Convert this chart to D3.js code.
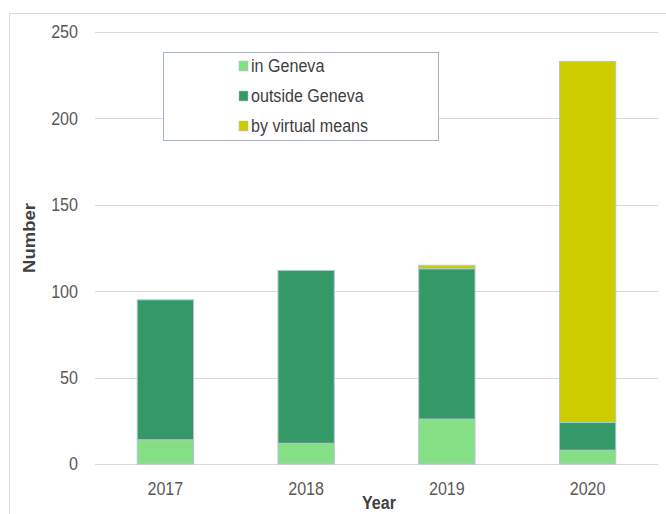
<!DOCTYPE html>
<html>
<head>
<meta charset="utf-8">
<script src="https://cdn.jsdelivr.net/npm/d3@7"></script>
<style>
  body { margin: 0; background: #fff; }
  svg text { font-family: "Liberation Sans", Arial, sans-serif; }
</style>
</head>
<body>
<div id="chart"></div>
<script>
const years = ["2017", "2018", "2019", "2020"];
const inGeneva = [14, 12, 26, 8];
const outsideGeneva = [81, 100, 87, 16];
const virtualMeans = [0, 0, 2, 209];
const seriesNames = ["in Geneva", "outside Geneva", "by virtual means"];
const yTicks = [0, 50, 100, 150, 200, 250];

const colors = ["#85df85", "#339966", "#cccc00"];

// the original picture is squeezed horizontally, so text gets a scaleX
const FS = 18.5, SX = 0.87;

const W = 666, H = 514;
const margin = {top: 32, left: 95};
const width = 658 - margin.left, height = 464 - margin.top;

const svg = d3.select("#chart").append("svg")
  .attr("width", W).attr("height", H);

// outer chart border (left & top only visible)
svg.append("path")
  .attr("d", "M9.5," + H + "V13.5H" + W)
  .attr("fill", "none")
  .attr("stroke", "#d9d9d9");

const g = svg.append("g")
  .attr("transform", "translate(" + margin.left + "," + margin.top + ")");

const x = d3.scaleBand().domain(years).range([0, width]).paddingInner(0.6).paddingOuter(0.3);
const y = d3.scaleLinear().domain([0, 250]).range([height, 0]);

// gridlines
g.append("g")
  .selectAll("line")
  .data(yTicks)
  .join("line")
  .attr("x1", 0).attr("x2", width)
  .attr("y1", d => Math.round(y(d)) + 0.5)
  .attr("y2", d => Math.round(y(d)) + 0.5)
  .attr("stroke", "#d9d9d9")
  .attr("stroke-width", 1);

const rows = years.map((yr, i) => ({year: yr, a: inGeneva[i], b: outsideGeneva[i], c: virtualMeans[i]}));
const stack = d3.stack().keys(["a", "b", "c"])(rows);

g.append("g")
  .selectAll("g")
  .data(stack)
  .join("g")
  .attr("fill", (d, i) => colors[i])
  .selectAll("rect")
  .data(d => d.filter(p => p[1] > p[0]))
  .join("rect")
  .attr("x", d => x(d.data.year))
  .attr("width", x.bandwidth())
  .attr("y", d => y(d[1]))
  .attr("height", d => y(d[0]) - y(d[1]))
  .attr("stroke", "#b4c4d2")
  .attr("stroke-width", 1);

// y axis labels
const yAxis = g.append("g").call(d3.axisLeft(y).tickValues(yTicks).tickSize(0).tickPadding(17));
yAxis.select(".domain").remove();
yAxis.selectAll("text")
  .attr("font-size", FS).attr("fill", "#595959")
  .attr("font-family", "Liberation Sans, Arial, sans-serif")
  .attr("x", -17 / SX)
  .attr("transform", "scale(" + SX + ",1)");

// x axis labels
const xAxis = g.append("g").attr("transform", "translate(0," + height + ")")
  .call(d3.axisBottom(x).tickSize(0).tickPadding(18));
xAxis.select(".domain").remove();
xAxis.selectAll("text")
  .attr("font-size", FS).attr("fill", "#595959")
  .attr("font-family", "Liberation Sans, Arial, sans-serif")
  .attr("transform", "scale(" + SX + ",1)");

// axis titles
svg.append("text")
  .attr("transform", "translate(34.5,238) rotate(-90) scale(1," + SX + ")")
  .attr("text-anchor", "middle")
  .attr("font-size", FS).attr("font-weight", "bold").attr("fill", "#404040")
  .text("Number");

svg.append("text")
  .attr("transform", "translate(379,509) scale(" + SX + ",1)")
  .attr("text-anchor", "middle")
  .attr("font-size", FS).attr("font-weight", "bold").attr("fill", "#404040")
  .text("Year");

// legend
const legend = svg.append("g").attr("transform", "translate(163,52)");
legend.append("rect")
  .attr("x", 0.5).attr("y", 0.5).attr("width", 275).attr("height", 88)
  .attr("fill", "#fff").attr("stroke", "#a6b4c2");

const items = legend.selectAll("g.item")
  .data(seriesNames)
  .join("g")
  .attr("class", "item")
  .attr("transform", (d, i) => "translate(76," + (14 + i * 30) + ")");

items.append("rect")
  .attr("x", 0).attr("y", -5).attr("width", 9).attr("height", 10)
  .attr("fill", (d, i) => colors[i])
  .attr("stroke", "#b4c4d2").attr("stroke-width", 0.5);

items.append("text")
  .attr("transform", "translate(12,0) scale(" + SX + ",1)")
  .attr("dy", "0.35em")
  .attr("font-size", FS).attr("fill", "#404040")
  .text(d => d);
</script>
</body>
</html>
